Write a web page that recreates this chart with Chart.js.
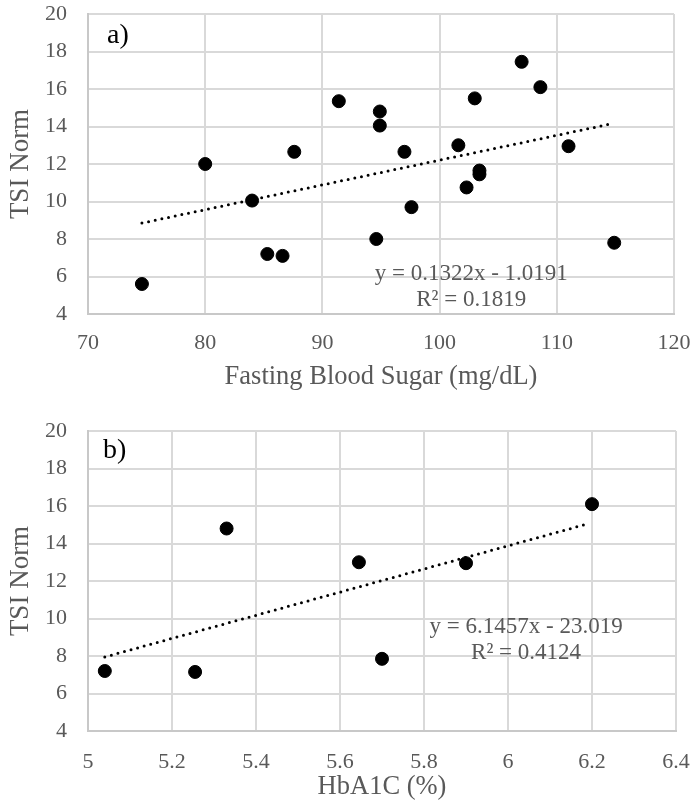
<!DOCTYPE html>
<html>
<head>
<meta charset="utf-8">
<script src="https://cdn.jsdelivr.net/npm/chart.js@4.4.1/dist/chart.umd.min.js"></script>
<style>
  html, body { margin: 0; padding: 0; background: #fff; }
  #wrap { position: relative; width: 694px; height: 812px; }
  #chartA { position: absolute; left: 0; top: 0; }
  #chartB { position: absolute; left: 0; top: 400px; }
</style>
</head>
<body>
<div id="wrap">
  <canvas id="chartA" width="694" height="400"></canvas>
  <canvas id="chartB" width="694" height="412"></canvas>
</div>
<script>
// a) fasting blood sugar vs TSI norm
const fbsValues = [74.6, 80.0, 84.0, 85.3, 86.6, 87.6, 91.4, 94.6, 94.9, 94.9, 97.0, 97.6, 101.6, 102.3, 103.0, 103.4, 103.4, 107.0, 108.6, 111.0, 114.9];
const tsiValuesA = [5.6, 12.0, 10.05, 7.2, 7.1, 12.65, 15.35, 8.0, 14.8, 14.05, 12.65, 9.7, 13.0, 10.75, 15.5, 11.65, 11.45, 17.45, 16.1, 12.95, 7.8];
const trendAX = [74.6, 114.7];
const trendAY = [8.85, 14.15];
const equationA = ['y = 0.1322x - 1.0191', 'R\u00b2 = 0.1819'];

// b) HbA1C vs TSI norm
const hba1cValues = [5.04, 5.255, 5.33, 5.645, 5.70, 5.90, 6.20];
const tsiValuesB = [7.2, 7.15, 14.8, 13.0, 7.85, 12.95, 16.1];
const trendBX = [5.04, 6.19];
const trendBY = [7.95, 15.05];
const equationB = ['y = 6.1457x - 23.019', 'R\u00b2 = 0.4124'];

// axis ticks
const yTicks = [4, 6, 8, 10, 12, 14, 16, 18, 20];
const xTicksA = [70, 80, 90, 100, 110, 120];
const xTicksB = [5, 5.2, 5.4, 5.6, 5.8, 6, 6.2, 6.4];
const xLabelsB = ['5', '5.2', '5.4', '5.6', '5.8', '6', '6.2', '6.4'];

const serif = '"Liberation Serif", "Times New Roman", serif';
const grey = '#595959';

const notesPlugin = {
    id: 'notes',
    afterDraw(chart, args, opts) {
        const { ctx, chartArea, scales } = chart;
        ctx.save();
        ctx.fillStyle = '#000';
        ctx.font = '28px ' + serif;
        ctx.textAlign = 'left';
        ctx.textBaseline = 'alphabetic';
        ctx.fillText(opts.panel, chartArea.left + opts.panelDx, chartArea.top + opts.panelDy);

        ctx.fillStyle = grey;
        ctx.font = '23px ' + serif;
        ctx.textAlign = 'center';
        const x = scales.x.getPixelForValue(opts.at[0]);
        ctx.fillText(opts.lines[0], x, scales.y.getPixelForValue(opts.at[1]));
        ctx.fillText(opts.lines[1], x, scales.y.getPixelForValue(opts.at[2]));
        ctx.restore();
    }
};

function makeChart(id, xs, ys, tx, ty, xTicks, xLabels, xTitle, note, pad, xHeight, tickPad, titlePad) {
    const points = xs.map((x, i) => ({ x: x, y: ys[i] }));
    const trend = tx.map((x, i) => ({ x: x, y: ty[i] }));

    return new Chart(document.getElementById(id), {
        type: 'scatter',
        data: {
            datasets: [{
                data: points,
                backgroundColor: '#000',
                borderColor: '#000',
                pointRadius: 6.5,
                pointHoverRadius: 6.5
            }, {
                type: 'line',
                data: trend,
                showLine: true,
                borderColor: '#000',
                borderWidth: 3,
                borderDash: [0, 6.8],
                borderCapStyle: 'round',
                pointRadius: 0,
                fill: false
            }]
        },
        options: {
            responsive: false,
            animation: false,
            events: [],
            layout: { padding: pad },
            plugins: {
                legend: { display: false },
                tooltip: { enabled: false },
                notes: note
            },
            scales: {
                x: {
                    type: 'linear',
                    min: xTicks[0],
                    max: xTicks[xTicks.length - 1],
                    afterBuildTicks: (s) => { s.ticks = xTicks.map(v => ({ value: v })); },
                    afterFit: (s) => {
                        s.height = xHeight;
                        s.paddingLeft = 0;
                        s.paddingRight = 0;
                    },
                    ticks: {
                        maxRotation: 0,
                        autoSkip: false,
                        padding: tickPad,
                        color: grey,
                        font: { family: serif, size: 22 },
                        callback: (v, i) => xLabels[i]
                    },
                    grid: { color: '#d9d9d9', lineWidth: 2, drawTicks: false },
                    border: { color: '#c8c8c8', width: 2 },
                    title: {
                        display: true,
                        text: xTitle,
                        color: grey,
                        font: { family: serif, size: 26.5 },
                        padding: { top: 0, bottom: titlePad }
                    }
                },
                y: {
                    min: 4,
                    max: 20,
                    afterBuildTicks: (s) => { s.ticks = yTicks.map(v => ({ value: v })); },
                    afterFit: (s) => {
                        s.width = 88;
                        s.paddingTop = 0;
                        s.paddingBottom = 0;
                    },
                    ticks: {
                        padding: 21,
                        color: grey,
                        font: { family: serif, size: 22 }
                    },
                    grid: { color: '#d9d9d9', lineWidth: 2, drawTicks: false },
                    border: { color: '#c8c8c8', width: 2 },
                    title: {
                        display: true,
                        text: 'TSI Norm',
                        color: grey,
                        font: { family: serif, size: 27 },
                        padding: { top: 5, bottom: 0 }
                    }
                }
            }
        },
        plugins: [notesPlugin]
    });
}

makeChart('chartA', fbsValues, tsiValuesA, trendAX, trendAY, xTicksA, xTicksA.map(String),
    'Fasting Blood Sugar (mg/dL)',
    { panel: 'a)', panelDx: 19, panelDy: 29, lines: equationA, at: [102.7, 5.83, 4.41] },
    { top: 14, right: 20, bottom: 0, left: 0 }, 86, 16, 7);

makeChart('chartB', hba1cValues, tsiValuesB, trendBX, trendBY, xTicksB, xLabelsB,
    'HbA1C (%)',
    { panel: 'b)', panelDx: 15, panelDy: 27, lines: equationB, at: [6.043, 9.21, 7.82] },
    { top: 31, right: 18, bottom: 0, left: 0 }, 81, 18, 9);
</script>
</body>
</html>
